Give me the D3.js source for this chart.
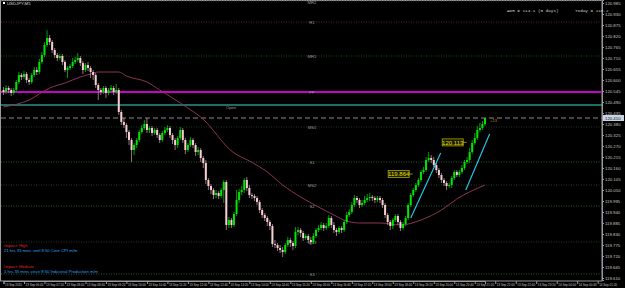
<!DOCTYPE html>
<html>
<head>
<meta charset="utf-8">
<script src="https://cdn.jsdelivr.net/npm/d3@7"></script>
<style>
body { margin: 0; background: #000; }
svg { display: block; }
text { font-family: "Liberation Sans", Arial, sans-serif; }
</style>
</head>
<body>
<div id="chart"></div>
<script>
// USDJPY M5 candles
var opens = [
120.550,120.540,120.560,120.550,120.535,120.550,120.590,120.625,120.615,120.630,
120.600,120.590,120.625,120.650,120.640,120.690,120.725,120.775,120.810,120.790,
120.750,120.725,120.710,120.720,120.690,120.650,120.660,120.670,120.690,120.700,
120.710,120.685,120.650,120.675,120.660,120.640,120.625,120.575,120.550,120.540,
120.560,120.535,120.550,120.560,120.540,120.550,120.440,120.390,120.375,120.340,
120.300,120.250,120.275,120.300,120.340,120.360,120.380,120.350,120.360,120.335,
120.350,120.325,120.300,120.335,120.350,120.360,120.325,120.300,120.275,120.310,
120.350,120.300,120.250,120.275,120.300,120.275,120.240,120.250,120.210,120.185,
120.100,120.070,120.050,120.025,120.035,120.020,120.050,120.090,119.875,119.900,
119.875,119.930,120.000,120.040,120.050,120.100,120.060,120.025,120.020,120.010,
119.990,119.950,119.925,119.910,119.890,119.870,119.780,119.775,119.760,119.750,
119.740,119.775,119.800,119.785,119.770,119.840,119.850,119.835,119.810,119.820,
119.800,119.790,119.820,119.850,119.860,119.875,119.860,119.870,119.910,119.875,
119.850,119.840,119.860,119.850,119.890,119.925,119.940,119.975,120.010,120.000,
119.975,119.985,120.000,120.010,120.015,120.010,120.000,120.010,120.000,119.975,
119.925,119.890,119.870,119.900,119.920,119.890,119.860,119.880,119.910,119.975,
120.025,120.050,120.075,120.100,120.140,120.150,120.200,120.210,120.200,120.175,
120.150,120.125,120.100,120.085,120.070,120.075,120.110,120.140,120.125,120.140,
120.160,120.190,120.200,120.240,120.285,120.310,120.350,120.360,120.380];

var highs = [
120.565,120.575,120.570,120.560,120.560,120.600,120.640,120.635,120.645,120.640,
120.610,120.635,120.665,120.665,120.705,120.740,120.790,120.850,120.825,120.800,
120.760,120.735,120.730,120.730,120.700,120.670,120.680,120.710,120.715,120.735,
120.720,120.695,120.685,120.690,120.670,120.650,120.635,120.585,120.560,120.570,
120.570,120.560,120.575,120.570,120.580,120.560,120.450,120.410,120.385,120.350,
120.310,120.285,120.310,120.350,120.375,120.400,120.410,120.370,120.370,120.360,
120.360,120.335,120.345,120.365,120.375,120.370,120.335,120.310,120.320,120.365,
120.360,120.310,120.285,120.315,120.310,120.285,120.265,120.260,120.220,120.200,
120.110,120.080,120.060,120.050,120.045,120.060,120.100,120.100,119.915,119.910,
119.940,120.050,120.055,120.070,120.110,120.115,120.075,120.035,120.030,120.020,
120.000,119.960,119.935,119.920,119.900,119.880,119.800,119.785,119.775,119.765,
119.785,119.815,119.810,119.795,119.865,119.865,119.860,119.845,119.830,119.830,
119.815,119.835,119.860,119.875,119.890,119.885,119.885,119.925,119.920,119.890,
119.860,119.870,119.870,119.900,119.940,119.955,119.990,120.025,120.020,120.010,
120.000,120.020,120.030,120.035,120.025,120.020,120.020,120.020,120.010,119.985,
119.935,119.900,119.910,119.930,119.930,119.900,119.890,119.920,119.985,120.035,
120.060,120.085,120.110,120.150,120.165,120.215,120.240,120.225,120.215,120.185,
120.160,120.135,120.110,120.095,120.085,120.120,120.150,120.150,120.150,120.175,
120.200,120.215,120.260,120.300,120.335,120.370,120.385,120.395,120.410];

var lows = [
120.525,120.530,120.535,120.520,120.525,120.540,120.580,120.600,120.605,120.585,
120.575,120.580,120.615,120.625,120.630,120.680,120.715,120.765,120.775,120.735,
120.710,120.695,120.700,120.675,120.640,120.610,120.650,120.660,120.680,120.690,
120.670,120.630,120.640,120.645,120.610,120.600,120.560,120.500,120.525,120.530,
120.510,120.525,120.540,120.525,120.530,120.425,120.375,120.360,120.310,120.275,
120.190,120.225,120.260,120.290,120.330,120.350,120.335,120.335,120.320,120.325,
120.310,120.285,120.290,120.325,120.340,120.310,120.280,120.250,120.260,120.300,
120.285,120.230,120.240,120.265,120.260,120.220,120.225,120.190,120.160,120.080,
120.050,120.030,120.005,120.010,120.005,120.010,119.985,119.850,119.860,119.860,
119.865,119.920,119.985,120.025,120.035,120.045,120.010,120.005,119.995,119.975,
119.935,119.910,119.895,119.870,119.850,119.765,119.760,119.745,119.735,119.715,
119.730,119.765,119.765,119.750,119.760,119.825,119.815,119.795,119.800,119.785,
119.775,119.780,119.810,119.840,119.850,119.845,119.850,119.860,119.860,119.835,
119.820,119.830,119.835,119.840,119.880,119.915,119.930,119.965,119.985,119.960,
119.965,119.975,119.990,119.995,119.995,119.985,119.990,119.985,119.960,119.910,
119.875,119.850,119.855,119.890,119.875,119.845,119.850,119.870,119.900,119.965,
120.015,120.040,120.065,120.090,120.130,120.140,120.190,120.185,120.165,120.135,
120.110,120.085,120.070,120.050,120.060,120.060,120.100,120.115,120.115,120.130,
120.150,120.180,120.185,120.230,120.275,120.300,120.340,120.350,120.370];

var closes = [
120.540,120.560,120.550,120.535,120.550,120.590,120.625,120.615,120.630,120.600,
120.590,120.625,120.650,120.640,120.690,120.725,120.775,120.810,120.790,120.750,
120.725,120.710,120.720,120.690,120.650,120.660,120.670,120.690,120.700,120.710,
120.685,120.650,120.675,120.660,120.640,120.625,120.575,120.550,120.540,120.560,
120.535,120.550,120.560,120.540,120.550,120.440,120.390,120.375,120.340,120.300,
120.250,120.275,120.300,120.340,120.360,120.380,120.350,120.360,120.335,120.350,
120.325,120.300,120.335,120.350,120.360,120.325,120.300,120.275,120.310,120.350,
120.300,120.250,120.275,120.300,120.275,120.240,120.250,120.210,120.185,120.100,
120.070,120.050,120.025,120.035,120.020,120.050,120.090,119.875,119.900,119.875,
119.930,120.000,120.040,120.050,120.100,120.060,120.025,120.020,120.010,119.990,
119.950,119.925,119.910,119.890,119.870,119.780,119.775,119.760,119.750,119.740,
119.775,119.800,119.785,119.770,119.840,119.850,119.835,119.810,119.820,119.800,
119.790,119.820,119.850,119.860,119.875,119.860,119.870,119.910,119.875,119.850,
119.840,119.860,119.850,119.890,119.925,119.940,119.975,120.010,120.000,119.975,
119.985,120.000,120.010,120.015,120.010,120.000,120.010,120.000,119.975,119.925,
119.890,119.870,119.900,119.920,119.890,119.860,119.880,119.910,119.975,120.025,
120.050,120.075,120.100,120.140,120.150,120.200,120.210,120.200,120.175,120.150,
120.125,120.100,120.085,120.070,120.075,120.110,120.140,120.125,120.140,120.160,
120.190,120.200,120.240,120.285,120.310,120.350,120.360,120.380,120.410];

// moving average, knots at bar index
var maIdx = [0,10,18,24,30,34,37,45,48,56,61,66,72,77,90,96,103,109,116,123,129,134,139,147,155,163,171,177,188];
var maVal = [120.465,120.500,120.560,120.585,120.615,120.630,120.640,120.640,120.620,120.590,120.550,120.510,120.460,120.415,
             120.235,120.195,120.140,120.075,120.015,119.965,119.925,119.895,119.885,119.885,119.875,119.900,119.950,120.005,120.075];

// pivot levels
var levelNames  = ["MR2", "R1", "MR1", "PP", "MS1", "S1", "MS2", "S2", "MS3", "S3"];
var levelPrices = [120.995, 120.890, 120.720, 120.540, 120.365, 120.190, 120.075, 119.970, 119.790, 119.630];
var openPrice = 120.475;
var bidPrice = 120.410;

// price axis and time axis
var priceTicks = [120.985,120.930,120.875,120.820,120.765,120.710,120.655,120.600,120.545,120.490,120.435,120.380,120.325,
                  120.270,120.215,120.160,120.105,120.050,119.995,119.940,119.885,119.830,119.775,119.720,119.665,119.610];
var timeIdx = [0,8,16,24,32,40,48,56,64,72,80,88,96,104,112,120,128,136,144,152,160,168,176,184,192,200,208,216,224,232];
var timeLabels = ["13 Sep 2015","13 Sep 06:40","13 Sep 07:20","13 Sep 08:00","13 Sep 08:40","13 Sep 09:20","13 Sep 10:00",
                  "13 Sep 10:40","13 Sep 11:20","13 Sep 12:00","13 Sep 12:40","13 Sep 13:20","13 Sep 14:00","13 Sep 14:40",
                  "13 Sep 15:20","13 Sep 16:00","13 Sep 16:40","13 Sep 17:20","13 Sep 18:00","13 Sep 18:40","13 Sep 19:20",
                  "13 Sep 20:00","13 Sep 20:40","13 Sep 21:20","13 Sep 22:00","13 Sep 22:40","13 Sep 23:20","14 Sep 00:00",
                  "14 Sep 00:40","14 Sep 01:20"];

// trend lines [startIdx, startPrice, endIdx, endPrice]
var trendA = [159, 119.910, 170.7, 120.235];
var trendB = [180.5, 120.050, 189.8, 120.330];

// swing labels
var swingIdx = [154.3, 175.4];
var swingPrice = [120.130, 120.288];
var swingText = ["119.864", "120.113"];

var newsTitles = ["Impact: High", "Impact: Medium"];
var newsLines = ["21 hrs 35 mins until 8:50 Core CPI m/m", "1 hrs 35 mins since 8:50 Industrial Production m/m"];

var W = 625, H = 288;
var plotRight = 602, plotBottom = 281;

var svg = d3.select("#chart").append("svg")
    .attr("width", W)
    .attr("height", H)
    .style("background", "#000");

var x = d3.scaleLinear().domain([0, 188]).range([3.5, 485]);
var y = d3.scaleLinear().domain([121.0, 119.6]).range([0, 280]);

// frame
svg.append("rect")
    .attr("x", 0.5).attr("y", 0.5)
    .attr("width", plotRight - 0.5).attr("height", plotBottom - 0.5)
    .attr("fill", "none")
    .attr("stroke", "#9a9a9a")
    .attr("stroke-width", 1);

var plot = svg.append("g");

// pivot dotted levels
var levelColors = ["#3a3a3a", "#6a2020", "#1f4a1f", null, "#1e3a1e", "#2a5a2a", "#2a3a2a", "#2a5a2a", "#223a22", "#2a5a2a"];
levelPrices.forEach(function(p, i) {
    if (levelColors[i] == null) return;
    plot.append("line")
        .attr("x1", 1).attr("x2", plotRight)
        .attr("y1", y(p)).attr("y2", y(p))
        .attr("stroke", levelColors[i])
        .attr("stroke-width", 1)
        .attr("stroke-dasharray", "1,1.5");
});

// PP line (magenta)
plot.append("line")
    .attr("x1", 1).attr("x2", plotRight)
    .attr("y1", y(levelPrices[3])).attr("y2", y(levelPrices[3]))
    .attr("stroke", "#c800c8")
    .attr("stroke-width", 2.2);

// day open line
plot.append("line")
    .attr("x1", 1).attr("x2", plotRight)
    .attr("y1", y(openPrice)).attr("y2", y(openPrice))
    .attr("stroke", "#40d8d0")
    .attr("stroke-width", 1);

// bid line
plot.append("line")
    .attr("x1", 1).attr("x2", plotRight)
    .attr("y1", y(bidPrice)).attr("y2", y(bidPrice))
    .attr("stroke", "#8a8a8a")
    .attr("stroke-width", 1)
    .attr("stroke-dasharray", "5,3");

// level labels
levelNames.forEach(function(n, i) {
    plot.append("text")
        .attr("x", 312).attr("y", Math.max(y(levelPrices[i]) + 1.6, 4))
        .attr("text-anchor", "middle")
        .style("font-size", "4.2px")
        .attr("fill", "#9a9a9a")
        .text(n);
});
plot.append("text")
    .attr("x", 231).attr("y", y(openPrice) + 3.5)
    .attr("text-anchor", "middle")
    .style("font-size", "4.2px")
    .attr("fill", "#9a9a9a")
    .text("Open");

// moving average
var maData = maIdx.map(function(d, i) { return [d, maVal[i]]; });
var maLine = d3.line()
    .x(function(d) { return x(d[0]); })
    .y(function(d) { return y(d[1]); })
    .curve(d3.curveMonotoneX);
plot.append("path")
    .datum(maData)
    .attr("d", maLine)
    .attr("fill", "none")
    .attr("stroke", "#8a3458")
    .attr("stroke-width", 1);

// candles
var bars = plot.selectAll("g.bar")
    .data(closes)
    .enter()
    .append("g")
    .attr("class", "bar");

bars.append("line")
    .attr("x1", function(d, i) { return x(i); })
    .attr("x2", function(d, i) { return x(i); })
    .attr("y1", function(d, i) { return y(highs[i]); })
    .attr("y2", function(d, i) { return y(lows[i]); })
    .attr("stroke", function(d, i) { return d >= opens[i] ? "#00c000" : "#b59098"; })
    .attr("stroke-width", 0.8);

bars.append("rect")
    .attr("x", function(d, i) { return x(i) - 1; })
    .attr("width", 2)
    .attr("y", function(d, i) { return y(Math.max(d, opens[i])); })
    .attr("height", function(d, i) { return Math.max(0.8, Math.abs(y(d) - y(opens[i]))); })
    .attr("fill", function(d, i) { return d >= opens[i] ? "#00e600" : "#f6cdd4"; });

// trend lines
[trendA, trendB].forEach(function(t) {
    plot.append("line")
        .attr("x1", x(t[0])).attr("y1", y(t[1]))
        .attr("x2", x(t[2])).attr("y2", y(t[3]))
        .attr("stroke", "#22d0f0")
        .attr("stroke-width", 1.1);
});

// swing labels
swingText.forEach(function(s, i) {
    var cx = x(swingIdx[i]), cy = y(swingPrice[i]);
    plot.append("rect")
        .attr("x", cx - 10.5).attr("y", cy - 3.5)
        .attr("width", 21).attr("height", 7)
        .attr("fill", "#1a1a00")
        .attr("stroke", "#b0a800")
        .attr("stroke-width", 0.8);
    plot.append("line")
        .attr("x1", cx + 10.5).attr("x2", cx + 14)
        .attr("y1", cy).attr("y2", cy)
        .attr("stroke", "#b0a800")
        .attr("stroke-width", 0.8);
    plot.append("text")
        .attr("x", cx).attr("y", cy + 2.2)
        .attr("text-anchor", "middle")
        .style("font-size", "6px")
        .attr("fill", "#e8e000")
        .text(s);
});

plot.append("text")
    .attr("x", x(190)).attr("y", y(120.400) + 1.5)
    .style("font-size", "4px")
    .attr("fill", "#d08020")
    .text("+13");

// right price axis
var yAxis = d3.axisRight(y)
    .tickValues(priceTicks)
    .tickSize(2)
    .tickFormat(d3.format(".3f"));
var ya = svg.append("g")
    .attr("transform", "translate(" + plotRight + ",0)")
    .call(yAxis);
ya.select(".domain").attr("stroke", "#9a9a9a");
ya.selectAll(".tick line").attr("stroke", "#9a9a9a");
ya.selectAll(".tick text")
    .attr("fill", "#c8c8c8")
    .attr("x", 3)
    .style("font-family", "'Liberation Sans', Arial, sans-serif")
    .style("font-size", "4.3px");

// bid marker on the axis
svg.append("rect")
    .attr("x", plotRight + 1).attr("y", y(bidPrice) - 3)
    .attr("width", 21).attr("height", 6)
    .attr("fill", "#c9d3e3");
svg.append("text")
    .attr("x", plotRight + 3).attr("y", y(bidPrice) + 1.6)
    .style("font-size", "4.3px")
    .attr("fill", "#101020")
    .text(d3.format(".3f")(bidPrice));

// bottom time axis
var xAxis = d3.axisBottom(x)
    .tickValues(timeIdx)
    .tickSize(3)
    .tickFormat(function(d, i) { return timeLabels[i]; });
var xa = svg.append("g")
    .attr("transform", "translate(0," + plotBottom + ")")
    .call(xAxis);
xa.select(".domain").attr("stroke", "#9a9a9a");
xa.selectAll(".tick line").attr("stroke", "#9a9a9a");
xa.selectAll(".tick text")
    .attr("fill", "#c8c8c8")
    .attr("text-anchor", "start")
    .attr("x", 1)
    .attr("y", 2.5)
    .style("font-family", "'Liberation Sans', Arial, sans-serif")
    .style("font-size", "3px");

// header texts
svg.append("rect")
    .attr("x", 3).attr("y", 2).attr("width", 2).attr("height", 2)
    .attr("fill", "#ffffff");
svg.append("text")
    .attr("x", 7).attr("y", 5)
    .style("font-size", "4.3px")
    .attr("fill", "#d8d8d8")
    .text("USDJPY,M5");

svg.append("text")
    .attr("x", 507).attr("y", 12)
    .style("font-family", "'Liberation Mono', monospace")
    .style("font-size", "4.3px")
    .attr("fill", "#d0d0d0")
    .text("ADR = 114.1  (5 days)");
svg.append("text")
    .attr("x", 575).attr("y", 12)
    .style("font-family", "'Liberation Mono', monospace")
    .style("font-size", "4.3px")
    .attr("fill", "#d0d0d0")
    .text("Today = 115.2");

// news block
var newsY = [247, 268];
newsTitles.forEach(function(t, i) {
    svg.append("text")
        .attr("x", 4).attr("y", newsY[i])
        .style("font-size", "4.2px")
        .attr("fill", "#e02020")
        .text(t);
    svg.append("text")
        .attr("x", 4).attr("y", newsY[i] + 5)
        .style("font-size", "4.2px")
        .attr("fill", "#2aa0f0")
        .text(newsLines[i]);
});
</script>
</body>
</html>
